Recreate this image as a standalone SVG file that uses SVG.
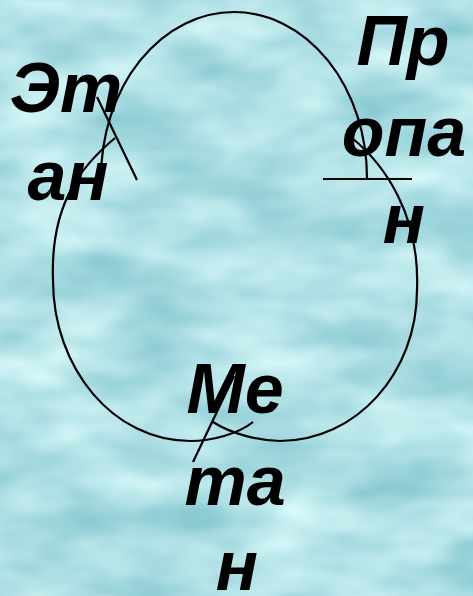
<svg xmlns="http://www.w3.org/2000/svg" width="473" height="596" viewBox="0 0 473 596">
  <defs>
    <filter id="water" x="0" y="0" width="473" height="596" filterUnits="userSpaceOnUse" color-interpolation-filters="sRGB">
      <feTurbulence type="fractalNoise" baseFrequency="0.009 0.02" numOctaves="3" seed="7" result="n"/>
      <feColorMatrix in="n" type="matrix" values="0.5 0 0 0 0.44  0.3 0 0 0 0.73  0.25 0 0 0 0.775  0 0 0 0 1"/>
    </filter>
    <style>
      .lbl { font-family: "Liberation Sans", Arial, sans-serif; font-weight: bold; font-style: italic; font-size: 70px; fill: #000; text-anchor: middle; }
      .ln { fill: none; stroke: #000; stroke-width: 2.2; }
    </style>
  </defs>
  <rect x="0" y="0" width="473" height="596" fill="#aee0e6"/>
  <rect x="0" y="0" width="473" height="596" filter="url(#water)"/>

  <g id="connectors">
    <path class="ln" d="M101,178 A133,166 0 0 1 367,178"/>
    <path class="ln" d="M115,138 C85,163 50,200 53,280 C53,369 114,441 190,441 C212,441 238,434 253,422"/>
    <path class="ln" d="M352,138 C385,165 420,215 417,290 C417,373 356,441 280,441 C258,441 230,433 213,422"/>
    <line class="ln" x1="97" y1="97" x2="137" y2="180"/>
    <line class="ln" x1="323" y1="179" x2="412" y2="179"/>
    <line class="ln" x1="234" y1="376" x2="193" y2="462"/>
  </g>

  <g id="ethane">
    <text class="lbl" x="66" y="112">Эт</text>
    <text class="lbl" x="68" y="200">ан</text>
  </g>
  <g id="propane">
    <text class="lbl" x="403" y="65">Пр</text>
    <text class="lbl" x="404" y="156">опа</text>
    <text class="lbl" x="404" y="243">н</text>
  </g>
  <g id="methane">
    <text class="lbl" x="235" y="413">Ме</text>
    <text class="lbl" x="235" y="505">та</text>
    <text class="lbl" x="237" y="590">н</text>
  </g>
</svg>
